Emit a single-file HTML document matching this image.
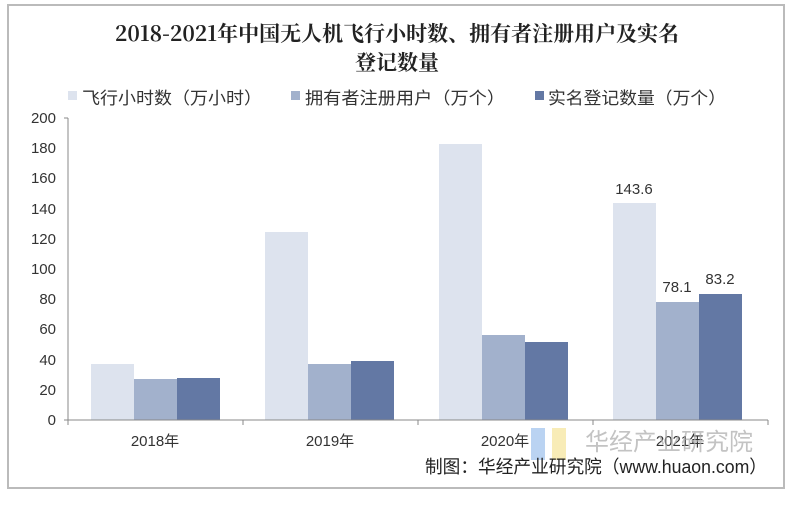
<!DOCTYPE html><html><head><meta charset="utf-8"><style>
body{margin:0;background:#fff;width:795px;height:500px;overflow:hidden;font-family:"Liberation Sans","Noto Sans CJK SC",sans-serif}
</style></head><body>
<svg width="795" height="500" xmlns="http://www.w3.org/2000/svg" font-family="Liberation Sans, Noto Sans CJK SC, sans-serif">
<rect x="0" y="0" width="795" height="500" fill="#fff"/>
<rect x="8" y="5" width="776" height="483" fill="none" stroke="#bbb" stroke-width="2"/>
<text x="397" y="41" font-size="21" font-weight="bold" text-anchor="middle" fill="#222" font-family="Noto Serif CJK SC, serif">2018-2021年中国无人机飞行小时数、拥有者注册用户及实名</text>
<text x="397" y="70" font-size="21" font-weight="bold" text-anchor="middle" fill="#222" font-family="Noto Serif CJK SC, serif">登记数量</text>
<g font-size="17" fill="#333">
<rect x="68" y="91" width="9" height="9" fill="#dde3ee"/><text x="82" y="104" textLength="180" lengthAdjust="spacingAndGlyphs">飞行小时数（万小时）</text>
<rect x="291" y="91" width="9" height="9" fill="#a2b1cc"/><text x="305" y="104" textLength="200" lengthAdjust="spacingAndGlyphs">拥有者注册用户（万个）</text>
<rect x="535" y="91" width="9" height="9" fill="#6378a4"/><text x="548" y="104" textLength="178" lengthAdjust="spacingAndGlyphs">实名登记数量（万个）</text>
</g>
<g font-size="15" fill="#333" text-anchor="end">
<text x="56" y="425">0</text><text x="56" y="395">20</text><text x="56" y="365">40</text><text x="56" y="334">60</text><text x="56" y="304">80</text><text x="56" y="274">100</text><text x="56" y="244">120</text><text x="56" y="214">140</text><text x="56" y="183">160</text><text x="56" y="153">180</text><text x="56" y="123">200</text>
</g>
<line x1="68" y1="118" x2="68" y2="420" stroke="#888"/>
<g stroke="#888"><line x1="64" y1="118" x2="68" y2="118"/><line x1="64" y1="420" x2="68" y2="420"/></g>
<g>
<rect x="91" y="364" width="43" height="56" fill="#dde3ee"/><rect x="134" y="379" width="43" height="41" fill="#a2b1cc"/><rect x="177" y="378" width="43" height="42" fill="#6378a4"/>
<rect x="265" y="232" width="43" height="188" fill="#dde3ee"/><rect x="308" y="364" width="43" height="56" fill="#a2b1cc"/><rect x="351" y="361" width="43" height="59" fill="#6378a4"/>
<rect x="439" y="144" width="43" height="276" fill="#dde3ee"/><rect x="482" y="335" width="43" height="85" fill="#a2b1cc"/><rect x="525" y="342" width="43" height="78" fill="#6378a4"/>
<rect x="613" y="203" width="43" height="217" fill="#dde3ee"/><rect x="656" y="302" width="43" height="118" fill="#a2b1cc"/><rect x="699" y="294" width="43" height="126" fill="#6378a4"/>
</g>
<line x1="68" y1="420" x2="768" y2="420" stroke="#888"/>
<g stroke="#888"><line x1="68" y1="420" x2="68" y2="425"/><line x1="243" y1="420" x2="243" y2="425"/><line x1="418" y1="420" x2="418" y2="425"/><line x1="593" y1="420" x2="593" y2="425"/><line x1="768" y1="420" x2="768" y2="425"/></g>
<g font-size="15" fill="#333" text-anchor="middle">
<text x="634" y="194">143.6</text><text x="677" y="292">78.1</text><text x="720" y="284">83.2</text>
<text x="155" y="446">2018年</text><text x="330" y="446">2019年</text><text x="505" y="446">2020年</text><text x="680" y="446">2021年</text>
</g>
<rect x="531" y="428" width="14" height="32" fill="#a9c8ef" opacity="0.8"/><rect x="552" y="428" width="14" height="32" fill="#f6e7a5" opacity="0.8"/>
<text x="585" y="450" font-size="24" fill="#aaa" opacity="0.7">华经产业研究院</text>
<text x="425" y="473" font-size="18" fill="#222" textLength="342" lengthAdjust="spacingAndGlyphs">制图：华经产业研究院（www.huaon.com）</text>
</svg>
</body></html>
